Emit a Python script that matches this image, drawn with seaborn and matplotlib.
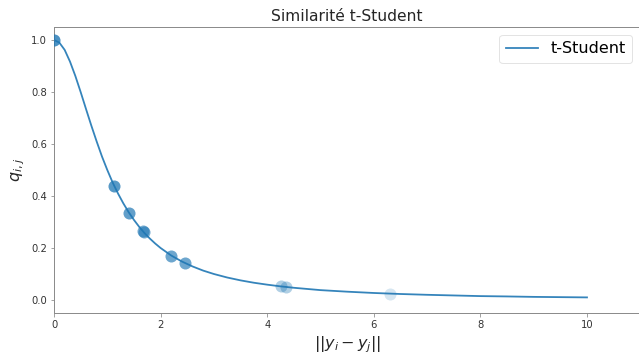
import matplotlib
matplotlib.use("Agg")
import matplotlib.pyplot as plt
import seaborn as sns
import pandas as pd

# curve values
curve_x = [0.0, 0.1, 0.2, 0.3, 0.4, 0.5, 0.6, 0.7, 0.8, 0.9, 1.0, 1.1, 1.2, 1.3,
           1.4, 1.5, 1.6, 1.7, 1.8, 1.9, 2.0, 2.2, 2.4, 2.6, 2.8, 3.0, 3.25, 3.5,
           3.75, 4.0, 4.25, 4.5, 5.0, 5.5, 6.0, 6.5, 7.0, 7.5, 8.0, 8.5, 9.0,
           9.5, 10.0]
curve_q = [1.000, 0.990, 0.962, 0.917, 0.862, 0.800, 0.735, 0.671, 0.610, 0.552,
           0.500, 0.452, 0.410, 0.372, 0.338, 0.308, 0.281, 0.257, 0.236, 0.217,
           0.200, 0.171, 0.148, 0.129, 0.113, 0.100, 0.0865, 0.0755, 0.0664,
           0.059, 0.0525, 0.047, 0.038, 0.032, 0.027, 0.0231, 0.020, 0.0175,
           0.015, 0.0137, 0.012, 0.011, 0.010]

# scattered points
pts_x = [0.0, 1.12, 1.41, 1.67, 1.68, 2.20, 2.45, 4.25, 4.35, 6.30]
pts_q = [1.000, 0.440, 0.335, 0.264, 0.262, 0.171, 0.143, 0.052, 0.050, 0.025]
pts_alpha = [0.8, 0.75, 0.7, 0.6, 0.6, 0.65, 0.65, 0.35, 0.35, 0.18]

title = "Similarité t-Student"
legend_label = "t-Student"
x_ticks = [0, 2, 4, 6, 8, 10]
y_ticks = [0.0, 0.2, 0.4, 0.6, 0.8, 1.0]

W, H = 639, 354
fig = plt.figure(figsize=(W / 72, H / 72), dpi=72)
fig.patch.set_facecolor("white")
ax = fig.add_axes([54 / W, (H - 313) / H, (W - 54) / W + 0.002, (313 - 27) / H])

blue = "#1f77b4"
df_curve = pd.DataFrame({"x": curve_x, "q": curve_q})
sns.lineplot(data=df_curve, x="x", y="q", ax=ax, color=blue, lw=1.8, alpha=0.9,
             estimator=None, sort=False, label=legend_label)

for xv, qv, a in zip(pts_x, pts_q, pts_alpha):
    ax.scatter([xv], [qv], s=145, color=blue, alpha=a, linewidths=0, zorder=3)

ax.set_xlim(0, 11)
ax.set_ylim(-0.05, 1.05)
ax.set_xticks(x_ticks)
ax.set_xticklabels([str(t) for t in x_ticks])
ax.set_yticks(y_ticks)
ax.set_yticklabels([f"{t:.1f}" for t in y_ticks])

for s in ["top", "bottom", "left"]:
    ax.spines[s].set_color("#8c8c8c")
    ax.spines[s].set_linewidth(1.0)
ax.spines["right"].set_visible(False)
ax.tick_params(colors="#8c8c8c", labelcolor="#333333", labelsize=10, length=3.5)

ax.set_title(title, fontsize=15.5, color="#262626")
ax.set_xlabel(r"$||y_i - y_j||$", fontsize=16, color="#262626")
ax.set_ylabel(r"$q_{i,j}$", fontsize=16, color="#262626")

leg = ax.legend(loc="upper right", fontsize=16, frameon=True)
leg.get_frame().set_edgecolor("#dddddd")

fig.savefig("out.png", dpi=72, facecolor="white")
